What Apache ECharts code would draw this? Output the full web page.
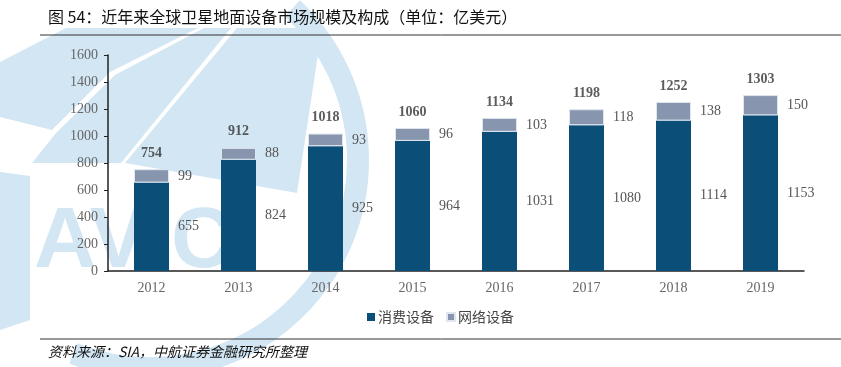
<!DOCTYPE html>
<html>
<head>
<meta charset="utf-8">
<style>
  html, body { margin: 0; padding: 0; background: #fff; }
  #chart { width: 841px; height: 367px; }
</style>
<script src="https://cdn.jsdelivr.net/npm/echarts@6/dist/echarts.min.js"></script>
</head>
<body>
<div id="chart"></div>
<script>
// 数据
const years = ['2012', '2013', '2014', '2015', '2016', '2017', '2018', '2019'];
const consumerEquip = [655, 824, 925, 964, 1031, 1080, 1114, 1153];
const networkEquip = [99, 88, 93, 96, 103, 118, 138, 150];
const totals = [754, 912, 1018, 1060, 1134, 1198, 1252, 1303];

const serif = '"Liberation Serif", "DejaVu Serif", serif';
const cjk = '"Noto Sans CJK SC", sans-serif';
const wm = '#d3e6f4'; // 水印颜色

const chart = echarts.init(document.getElementById('chart'));

// 背景水印（AVIC 标志的近似）
const watermark = [
  { type: 'polygon', shape: { points: [[0, 62], [66, 28], [198, 28], [110, 72], [52, 130], [0, 117]] } },
  { type: 'polygon', shape: { points: [[204, 28], [231, 28], [121, 163], [32, 163], [56, 133], [115, 75]] } },
  { type: 'polygon', shape: { points: [[237, 28], [322, 28], [297, 193], [125, 163]] } },
  { type: 'polygon', shape: { points: [[0, 172], [30, 176], [30, 320], [0, 330]] } }
].map(el => ({ ...el, z: -10, silent: true, style: { fill: wm } }));

watermark.push(
  { type: 'arc', z: -10, silent: true,
    shape: { cx: 150, cy: 160, r: 208, startAngle: -Math.PI * 0.26, endAngle: Math.PI * 0.62 },
    style: { stroke: wm, lineWidth: 22, fill: null } },
  { type: 'text', z: -10, silent: true, left: 34, top: 200,
    style: { text: 'AVIC', fill: wm, font: 'bold 86px "Liberation Sans", sans-serif' } }
);

const option = {
  backgroundColor: '#fff',
  animation: false,
  graphic: [
    ...watermark,
    { type: 'text', left: 48, top: 9,
      style: { text: '图 54：近年来全球卫星地面设备市场规模及构成（单位：亿美元）', fill: '#111', font: '16px ' + cjk } },
    { type: 'line', shape: { x1: 40, y1: 35, x2: 841, y2: 35 }, style: { stroke: '#333', lineWidth: 1 } },
    { type: 'line', shape: { x1: 40, y1: 339, x2: 841, y2: 339 }, style: { stroke: '#333', lineWidth: 1 } },
    { type: 'text', left: 48, top: 345,
      style: { text: '资料来源：SIA，中航证券金融研究所整理', fill: '#111', font: 'italic 14px ' + cjk } }
  ],
  legend: {
    data: ['消费设备', '网络设备'],
    left: 362,
    top: 305,
    icon: 'rect',
    itemWidth: 8,
    itemHeight: 8,
    itemGap: 12,
    textStyle: { fontFamily: cjk, fontSize: 14, color: '#444', padding: [0, 0, 0, -2] }
  },
  grid: { left: 108, right: 37, top: 55, bottom: 96 },
  xAxis: {
    type: 'category',
    data: years,
    axisLine: { lineStyle: { color: '#222', width: 1.5 } },
    axisTick: { show: false },
    axisLabel: { fontFamily: serif, fontSize: 14, color: '#666', margin: 10 }
  },
  yAxis: {
    type: 'value',
    min: 0,
    max: 1600,
    interval: 200,
    splitLine: { show: false },
    axisLine: { show: true, lineStyle: { color: '#222', width: 1.5 } },
    axisTick: { show: true, length: 4, lineStyle: { color: '#222' } },
    axisLabel: { fontFamily: serif, fontSize: 14, color: '#666', margin: 10, formatter: v => String(v) }
  },
  series: [
    {
      name: '消费设备',
      type: 'bar',
      stack: 'total',
      data: consumerEquip,
      barWidth: 35,
      itemStyle: { color: '#0b4f78' },
      label: { show: true, position: 'right', distance: 9, fontFamily: serif, fontSize: 14, color: '#555' }
    },
    {
      name: '网络设备',
      type: 'bar',
      stack: 'total',
      data: networkEquip,
      barWidth: 35,
      itemStyle: { color: '#8795ae', borderColor: '#dfe6ee', borderWidth: 1 },
      label: { show: true, position: 'right', distance: 9, fontFamily: serif, fontSize: 14, color: '#555' }
    },
    {
      name: '合计',
      type: 'scatter',
      data: totals,
      symbolSize: 0,
      silent: true,
      label: { show: true, position: 'top', distance: 9, fontFamily: serif, fontSize: 14, fontWeight: 'bold', color: '#333' }
    }
  ]
};

chart.setOption(option);
</script>
</body>
</html>
